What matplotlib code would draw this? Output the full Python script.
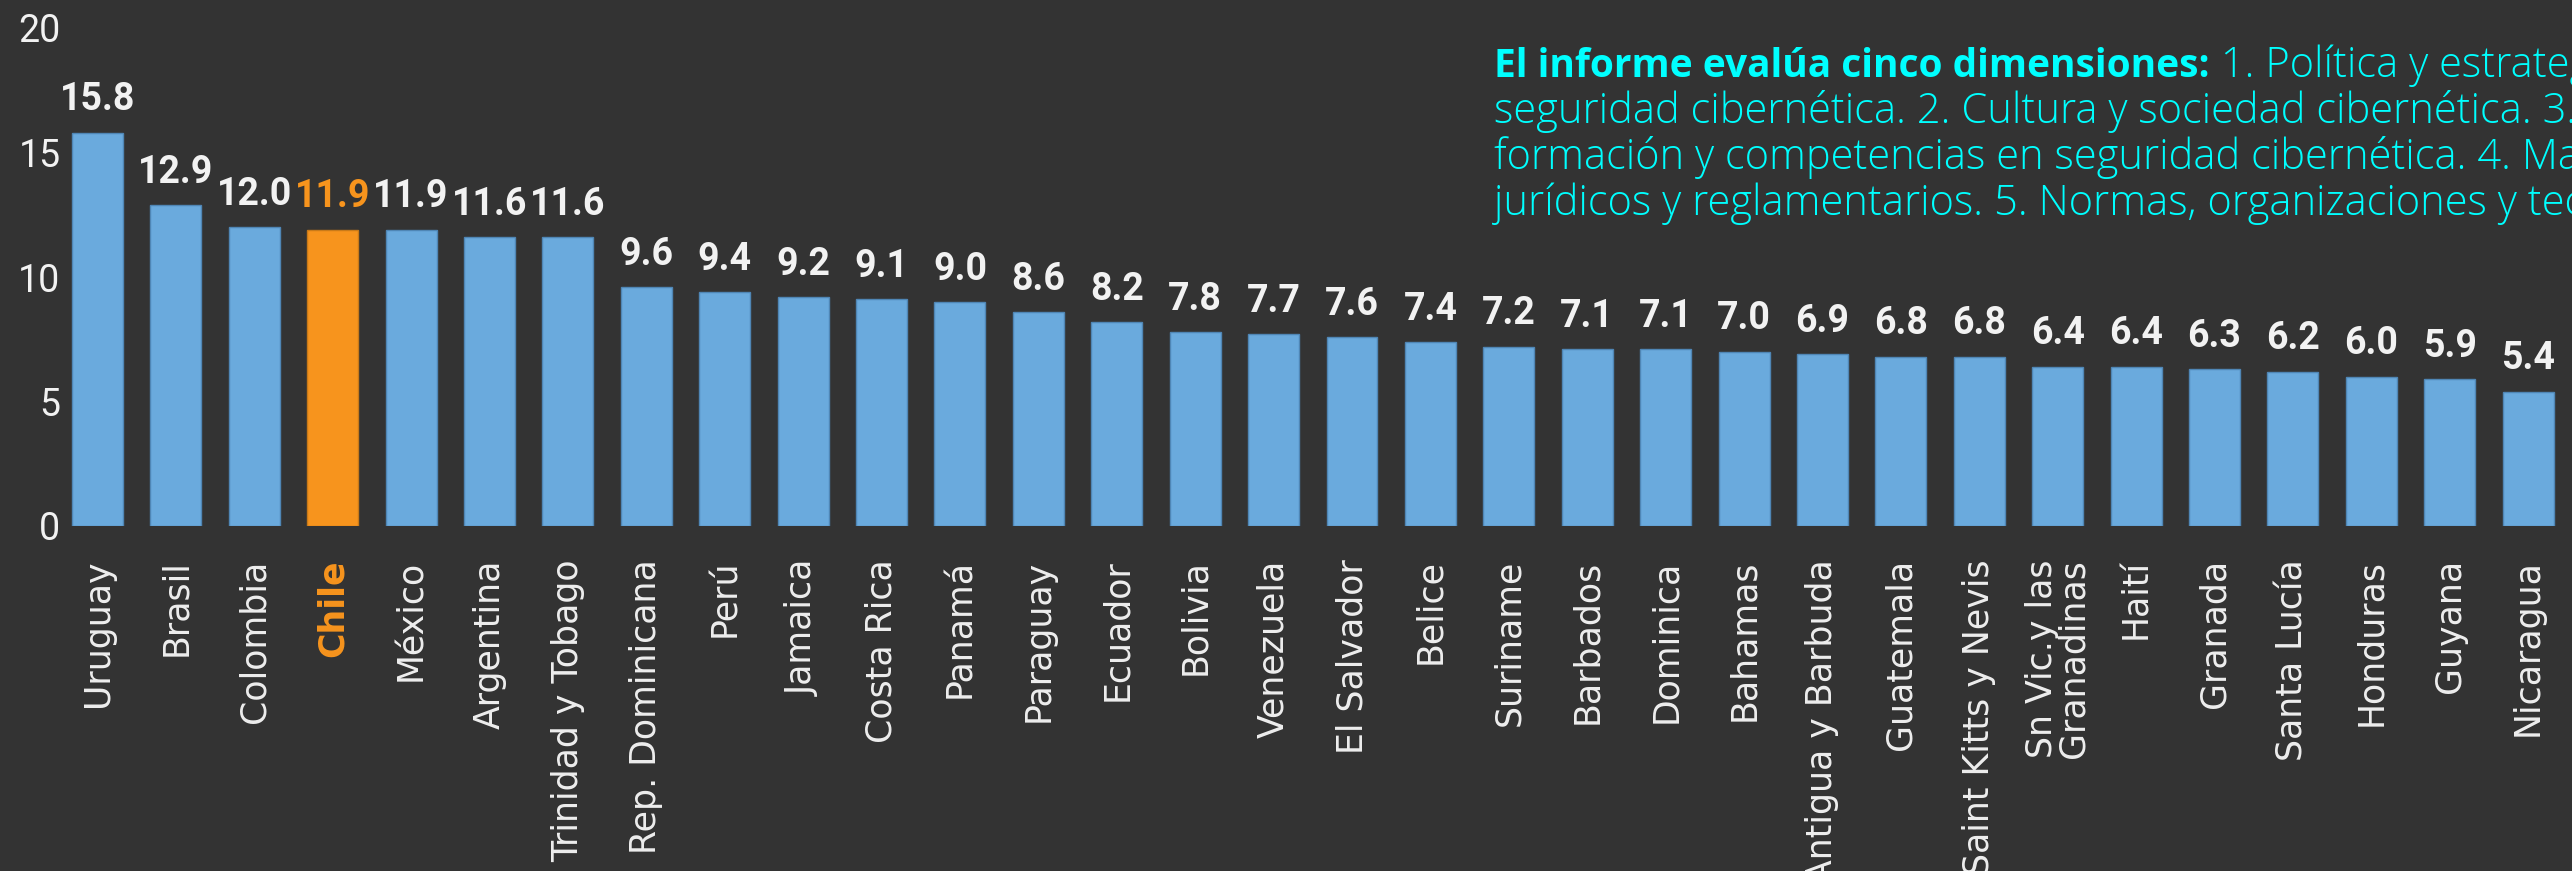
import matplotlib
matplotlib.use("Agg")
import matplotlib.pyplot as plt
from matplotlib import font_manager

countries = ["Uruguay", "Brasil", "Colombia", "Chile", "México", "Argentina",
             "Trinidad y Tobago", "Rep. Dominicana", "Perú", "Jamaica", "Costa Rica",
             "Panamá", "Paraguay", "Ecuador", "Bolivia", "Venezuela", "El Salvador",
             "Belice", "Suriname", "Barbados", "Dominica", "Bahamas",
             "Antigua y Barbuda", "Guatemala", "Saint Kitts y Nevis",
             "Sn Vic.y las\nGranadinas", "Haití", "Granada", "Santa Lucía",
             "Honduras", "Guyana", "Nicaragua"]
values = [15.8, 12.9, 12.0, 11.9, 11.9, 11.6, 11.6, 9.6, 9.4, 9.2, 9.1, 9.0, 8.6,
          8.2, 7.8, 7.7, 7.6, 7.4, 7.2, 7.1, 7.1, 7.0, 6.9, 6.8, 6.8, 6.4, 6.4,
          6.3, 6.2, 6.0, 5.9, 5.4]
highlight = "Chile"
y_ticks = [0, 5, 10, 15, 20]

note_bold = "El informe evalúa cinco dimensiones:"
note_lines = [" 1. Política y estrategia de",
              "seguridad cibernética. 2. Cultura y sociedad cibernética. 3. Educación,",
              "formación y competencias en seguridad cibernética. 4. Marcos",
              "jurídicos y reglamentarios. 5. Normas, organizaciones y tecnologías."]

available = {f.name for f in font_manager.fontManager.ttflist}
def pick(*names):
    for n in names:
        if n in available:
            return n
    return "DejaVu Sans"
NUMFONT = pick("Roboto", "Lato", "Open Sans", "DejaVu Sans")
NOTEFONT = pick("Open Sans", "Roboto", "DejaVu Sans")

BG = "#333333"
BLUE = "#6AAADD"
ORANGE = "#F7941D"
WHITE = "#F2F2F2"
CYAN = "#00FFFF"

W, H = 2572, 871
fig = plt.figure(figsize=(W / 100, H / 100), dpi=100, facecolor=BG)
ax_left = 66 / W
ax_bottom = (H - 526) / H
ax_height = (526 - 28) / H
ax = fig.add_axes([ax_left, ax_bottom, 1 - ax_left, ax_height])
ax.set_facecolor(BG)

x = list(range(len(countries)))
colors = [ORANGE if c == highlight else BLUE for c in countries]
edges = ["#C97A18" if c == highlight else "#4F86B5" for c in countries]
bars = ax.bar(x, values, width=0.65, color=colors, edgecolor=edges, linewidth=1.0)

ax.set_xlim(-0.402, 31.56)
ax.set_ylim(0, 20)
ax.set_yticks(y_ticks)
ax.set_yticklabels([str(t) for t in y_ticks], fontfamily=NUMFONT, fontsize=27, color=WHITE)
ax.tick_params(axis="y", length=0, pad=4)
ax.set_xticks(x)
ax.set_xticklabels(countries, rotation=90, fontsize=25, color="#EEEEEE",
                   fontfamily="DejaVu Sans", multialignment="right",
                   linespacing=0.92)
ax.tick_params(axis="x", length=0, pad=24)
for lbl, c in zip(ax.get_xticklabels(), countries):
    if c == highlight:
        lbl.set_color(ORANGE)
        lbl.set_fontweight("bold")
for s in ax.spines.values():
    s.set_visible(False)

for xi, v, c in zip(x, values, countries):
    ax.annotate(f"{v:.1f}", xy=(xi, v), xytext=(0, 16), textcoords="offset points",
                ha="center", va="baseline", fontsize=27, fontweight="bold",
                fontfamily=NUMFONT, color=ORANGE if c == highlight else WHITE,
                annotation_clip=False)

# annotation block
x0 = 1494 / W
baselines = [77, 123, 169, 215]
fs_bold = 28
fs = 30
tb = fig.text(x0, 1 - baselines[0] / H, note_bold, fontsize=fs_bold, fontweight="bold",
              fontfamily=NOTEFONT, color=CYAN, ha="left", va="baseline")
renderer = fig.canvas.get_renderer()
bb = tb.get_window_extent(renderer=renderer)
fig.text(bb.x1 / W, 1 - baselines[0] / H, note_lines[0], fontsize=fs, fontweight="light",
         fontfamily=NOTEFONT, color=CYAN, ha="left", va="baseline")
for ly, t in zip(baselines[1:], note_lines[1:]):
    fig.text(x0, 1 - ly / H, t, fontsize=fs, fontweight="light",
             fontfamily=NOTEFONT, color=CYAN, ha="left", va="baseline")

fig.savefig("out.png", dpi=100, facecolor=BG)
